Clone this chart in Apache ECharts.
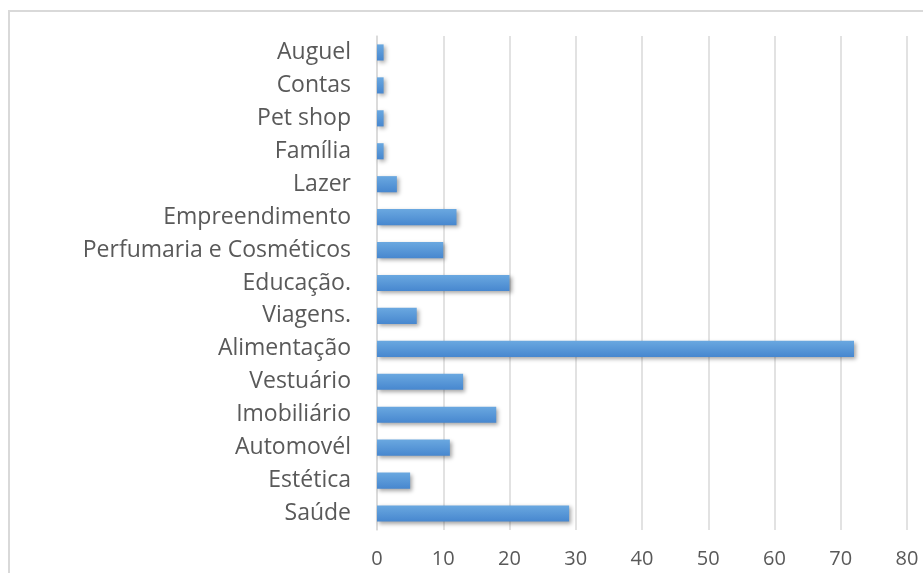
<!DOCTYPE html>
<html>
<head>
<meta charset="utf-8">
<script src="https://cdn.jsdelivr.net/npm/echarts@6/dist/echarts.min.js"></script>
<style>
  html, body { margin: 0; padding: 0; background: #fff; }
  #chart { width: 923px; height: 573px; }
</style>
</head>
<body>
<div id="chart"></div>
<script>
  // categorias de baixo para cima (como no eixo)
  var categories = ['Saúde', 'Estética', 'Automovél', 'Imobiliário', 'Vestuário', 'Alimentação',
    'Viagens.', 'Educação.', 'Perfumaria e Cosméticos', 'Empreendimento', 'Lazer',
    'Família', 'Pet shop', 'Contas', 'Auguel'];
  var values = [29, 5, 11, 18, 13, 72, 6, 20, 10, 12, 3, 1, 1, 1, 1];
  var xTicks = [0, 10, 20, 30, 40, 50, 60, 70, 80];

  var chart = echarts.init(document.getElementById('chart'));

  var option = {
    animation: false,
    graphic: [{
      type: 'rect',
      shape: { x: 9, y: 11, width: 1000, height: 1000 },
      style: { fill: 'none', stroke: '#d9d9d9', lineWidth: 2 },
      silent: true
    }],
    grid: { left: 377, top: 36, right: 16, bottom: 43 },
    xAxis: {
      type: 'value',
      min: xTicks[0],
      max: xTicks[xTicks.length - 1],
      interval: 10,
      axisLine: { show: false },
      axisTick: { show: false },
      axisLabel: { color: '#595959', fontSize: 20, fontFamily: 'Open Sans', margin: 19 },
      splitLine: { lineStyle: { color: '#d9d9d9', width: 1.5 } }
    },
    yAxis: {
      type: 'category',
      data: categories,
      axisLine: { lineStyle: { color: '#d9d9d9', width: 1.5 } },
      axisTick: { show: false },
      axisLabel: { color: '#595959', fontSize: 23, fontFamily: 'Open Sans', margin: 26 }
    },
    series: [{
      type: 'bar',
      data: values,
      barCategoryGap: '51%',
      itemStyle: {
        color: new echarts.graphic.LinearGradient(0, 0, 0, 1, [
          { offset: 0, color: '#6aa8e0' },
          { offset: 1, color: '#4787cf' }
        ]),
        shadowColor: 'rgba(0,0,0,0.35)',
        shadowBlur: 4,
        shadowOffsetX: 2,
        shadowOffsetY: 2
      }
    }]
  };

  chart.setOption(option);
</script>
</body>
</html>
